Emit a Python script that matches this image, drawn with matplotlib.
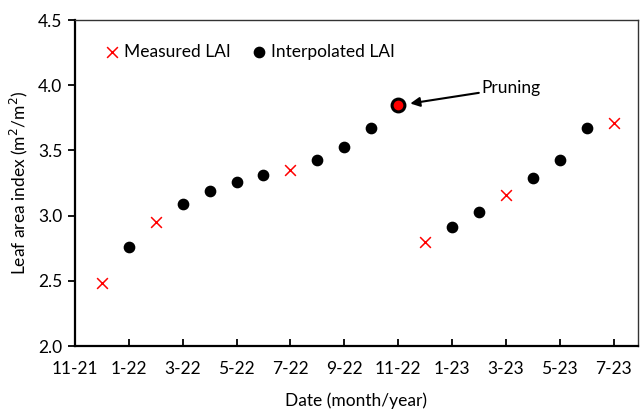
import matplotlib
matplotlib.use("Agg")
import matplotlib.pyplot as plt

plt.rcParams['font.family'] = ['Lato', 'DejaVu Sans']

# month index: 0 = Nov-2021
measured_month = [1, 3, 8, 13, 16, 20]
measured_lai = [2.48, 2.95, 3.35, 2.80, 3.16, 3.71]

interp_month = [2, 4, 5, 6, 7, 9, 10, 11, 14, 15, 17, 18, 19]
interp_lai = [2.76, 3.09, 3.19, 3.26, 3.31, 3.43, 3.53, 3.67, 2.91, 3.03, 3.29, 3.43, 3.67]

pruning_month = 12
pruning_lai = 3.85

tick_months = [0, 2, 4, 6, 8, 10, 12, 14, 16, 18, 20]
tick_labels = ['11-21', '1-22', '3-22', '5-22', '7-22', '9-22', '11-22',
               '1-23', '3-23', '5-23', '7-23']

fig = plt.figure(figsize=(6.41, 4.09), dpi=100)
ax = fig.add_axes([0.117, 0.154, 0.878, 0.797])

ax.scatter(measured_month, measured_lai, marker='x', s=60, color='#ff0000',
           linewidths=1.1, label='Measured LAI', zorder=3)
ax.scatter(interp_month, interp_lai, marker='o', s=55, color='black',
           label='Interpolated LAI', zorder=3)
# pruning point: red fill with black outline
ax.scatter([pruning_month], [pruning_lai], marker='o', s=85, facecolor='#ff0000',
           edgecolor='black', linewidths=2.2, zorder=4)

ax.annotate('Pruning', xy=(pruning_month + 0.45, pruning_lai + 0.01),
            xytext=(15.1, 3.98), fontsize=12.5, va='center', ha='left',
            arrowprops=dict(arrowstyle='-|>', color='black', lw=1.5,
                            mutation_scale=14, shrinkA=0, shrinkB=0))

ax.set_xlim(0, 20.9)
ax.set_ylim(2.0, 4.5)
ax.set_xticks(tick_months)
ax.set_xticklabels(tick_labels)
ax.set_yticks([2.0, 2.5, 3.0, 3.5, 4.0, 4.5])
ax.set_yticklabels(['2.0', '2.5', '3.0', '3.5', '4.0', '4.5'])
ax.tick_params(axis='both', labelsize=12.5, colors='black')
ax.tick_params(axis='x', direction='in', length=5, width=1.3, pad=11)
ax.tick_params(axis='y', direction='out', length=5, width=1.3, pad=4)

for side in ['left', 'bottom']:
    ax.spines[side].set_linewidth(1.6)
for side in ['top', 'right']:
    ax.spines[side].set_linewidth(1.0)
    ax.spines[side].set_color('#333333')

ax.set_xlabel('Date (month/year)', fontsize=12.5, labelpad=11)
ax.set_ylabel('Leaf area index (m$^2$/m$^2$)', fontsize=12.5, labelpad=6)

ax.legend(loc='upper left', ncol=2, frameon=False, fontsize=12.5,
          handletextpad=0.1, columnspacing=1.0, handlelength=1.2,
          bbox_to_anchor=(0.02, 0.975))

fig.savefig('out.png', dpi=100)
